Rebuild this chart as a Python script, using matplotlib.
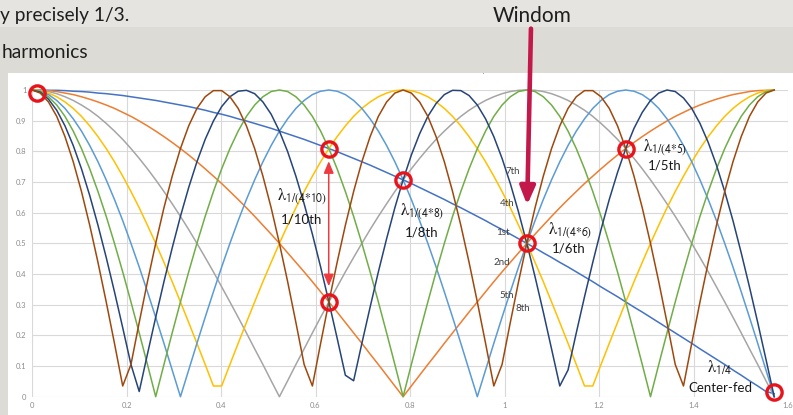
import numpy as np
import matplotlib
matplotlib.use("Agg")
import matplotlib.pyplot as plt
from matplotlib.patches import Rectangle

# angle along the wire, degrees (plotted in radians)
angle_deg = list(range(0, 91))

# |cos(n*angle)|, one list per harmonic
h1 = [1.000, 1.000, 0.999, 0.999, 0.998, 0.996, 0.995, 0.993, 0.990, 0.988,
      0.985, 0.982, 0.978, 0.974, 0.970, 0.966, 0.961, 0.956, 0.951, 0.946,
      0.940, 0.934, 0.927, 0.921, 0.914, 0.906, 0.899, 0.891, 0.883, 0.875,
      0.866, 0.857, 0.848, 0.839, 0.829, 0.819, 0.809, 0.799, 0.788, 0.777,
      0.766, 0.755, 0.743, 0.731, 0.719, 0.707, 0.695, 0.682, 0.669, 0.656,
      0.643, 0.629, 0.616, 0.602, 0.588, 0.574, 0.559, 0.545, 0.530, 0.515,
      0.500, 0.485, 0.469, 0.454, 0.438, 0.423, 0.407, 0.391, 0.375, 0.358,
      0.342, 0.326, 0.309, 0.292, 0.276, 0.259, 0.242, 0.225, 0.208, 0.191,
      0.174, 0.156, 0.139, 0.122, 0.105, 0.087, 0.070, 0.052, 0.035, 0.017,
      0.010]
h2 = [1.000, 0.999, 0.998, 0.995, 0.990, 0.985, 0.978, 0.970, 0.961, 0.951,
      0.940, 0.927, 0.914, 0.899, 0.883, 0.866, 0.848, 0.829, 0.809, 0.788,
      0.766, 0.743, 0.719, 0.695, 0.669, 0.643, 0.616, 0.588, 0.559, 0.530,
      0.500, 0.469, 0.438, 0.407, 0.375, 0.342, 0.309, 0.276, 0.242, 0.208,
      0.174, 0.139, 0.105, 0.070, 0.035, 0.000, 0.035, 0.070, 0.105, 0.139,
      0.174, 0.208, 0.242, 0.276, 0.309, 0.342, 0.375, 0.407, 0.438, 0.469,
      0.500, 0.530, 0.559, 0.588, 0.616, 0.643, 0.669, 0.695, 0.719, 0.743,
      0.766, 0.788, 0.809, 0.829, 0.848, 0.866, 0.883, 0.899, 0.914, 0.927,
      0.940, 0.951, 0.961, 0.970, 0.978, 0.985, 0.990, 0.995, 0.998, 0.999,
      1.000]
h3 = [1.000, 0.999, 0.995, 0.988, 0.978, 0.966, 0.951, 0.934, 0.914, 0.891,
      0.866, 0.839, 0.809, 0.777, 0.743, 0.707, 0.669, 0.629, 0.588, 0.545,
      0.500, 0.454, 0.407, 0.358, 0.309, 0.259, 0.208, 0.156, 0.105, 0.052,
      0.000, 0.052, 0.105, 0.156, 0.208, 0.259, 0.309, 0.358, 0.407, 0.454,
      0.500, 0.545, 0.588, 0.629, 0.669, 0.707, 0.743, 0.777, 0.809, 0.839,
      0.866, 0.891, 0.914, 0.934, 0.951, 0.966, 0.978, 0.988, 0.995, 0.999,
      1.000, 0.999, 0.995, 0.988, 0.978, 0.966, 0.951, 0.934, 0.914, 0.891,
      0.866, 0.839, 0.809, 0.777, 0.743, 0.707, 0.669, 0.629, 0.588, 0.545,
      0.500, 0.454, 0.407, 0.358, 0.309, 0.259, 0.208, 0.156, 0.105, 0.052,
      0.000]
h4 = [1.000, 0.998, 0.990, 0.978, 0.961, 0.940, 0.914, 0.883, 0.848, 0.809,
      0.766, 0.719, 0.669, 0.616, 0.559, 0.500, 0.438, 0.375, 0.309, 0.242,
      0.174, 0.105, 0.035, 0.035, 0.105, 0.174, 0.242, 0.309, 0.375, 0.438,
      0.500, 0.559, 0.616, 0.669, 0.719, 0.766, 0.809, 0.848, 0.883, 0.914,
      0.940, 0.961, 0.978, 0.990, 0.998, 1.000, 0.998, 0.990, 0.978, 0.961,
      0.940, 0.914, 0.883, 0.848, 0.809, 0.766, 0.719, 0.669, 0.616, 0.559,
      0.500, 0.438, 0.375, 0.309, 0.242, 0.174, 0.105, 0.035, 0.035, 0.105,
      0.174, 0.242, 0.309, 0.375, 0.438, 0.500, 0.559, 0.616, 0.669, 0.719,
      0.766, 0.809, 0.848, 0.883, 0.914, 0.940, 0.961, 0.978, 0.990, 0.998,
      1.000]
h5 = [1.000, 0.996, 0.985, 0.966, 0.940, 0.906, 0.866, 0.819, 0.766, 0.707,
      0.643, 0.574, 0.500, 0.423, 0.342, 0.259, 0.174, 0.087, 0.000, 0.087,
      0.174, 0.259, 0.342, 0.423, 0.500, 0.574, 0.643, 0.707, 0.766, 0.819,
      0.866, 0.906, 0.940, 0.966, 0.985, 0.996, 1.000, 0.996, 0.985, 0.966,
      0.940, 0.906, 0.866, 0.819, 0.766, 0.707, 0.643, 0.574, 0.500, 0.423,
      0.342, 0.259, 0.174, 0.087, 0.000, 0.087, 0.174, 0.259, 0.342, 0.423,
      0.500, 0.574, 0.643, 0.707, 0.766, 0.819, 0.866, 0.906, 0.940, 0.966,
      0.985, 0.996, 1.000, 0.996, 0.985, 0.966, 0.940, 0.906, 0.866, 0.819,
      0.766, 0.707, 0.643, 0.574, 0.500, 0.423, 0.342, 0.259, 0.174, 0.087,
      0.000]
h6 = [1.000, 0.995, 0.978, 0.951, 0.914, 0.866, 0.809, 0.743, 0.669, 0.588,
      0.500, 0.407, 0.309, 0.208, 0.105, 0.000, 0.105, 0.208, 0.309, 0.407,
      0.500, 0.588, 0.669, 0.743, 0.809, 0.866, 0.914, 0.951, 0.978, 0.995,
      1.000, 0.995, 0.978, 0.951, 0.914, 0.866, 0.809, 0.743, 0.669, 0.588,
      0.500, 0.407, 0.309, 0.208, 0.105, 0.000, 0.105, 0.208, 0.309, 0.407,
      0.500, 0.588, 0.669, 0.743, 0.809, 0.866, 0.914, 0.951, 0.978, 0.995,
      1.000, 0.995, 0.978, 0.951, 0.914, 0.866, 0.809, 0.743, 0.669, 0.588,
      0.500, 0.407, 0.309, 0.208, 0.105, 0.000, 0.105, 0.208, 0.309, 0.407,
      0.500, 0.588, 0.669, 0.743, 0.809, 0.866, 0.914, 0.951, 0.978, 0.995,
      1.000]
h7 = [1.000, 0.993, 0.970, 0.934, 0.883, 0.819, 0.743, 0.656, 0.559, 0.454,
      0.342, 0.225, 0.105, 0.017, 0.139, 0.259, 0.375, 0.485, 0.588, 0.682,
      0.766, 0.839, 0.899, 0.946, 0.978, 0.996, 0.999, 0.988, 0.961, 0.921,
      0.866, 0.799, 0.719, 0.629, 0.530, 0.423, 0.309, 0.191, 0.070, 0.052,
      0.174, 0.292, 0.407, 0.515, 0.616, 0.707, 0.788, 0.857, 0.914, 0.956,
      0.985, 0.999, 0.998, 0.982, 0.951, 0.906, 0.848, 0.777, 0.695, 0.602,
      0.500, 0.391, 0.276, 0.156, 0.035, 0.087, 0.208, 0.326, 0.438, 0.545,
      0.643, 0.731, 0.809, 0.875, 0.927, 0.966, 0.990, 1.000, 0.995, 0.974,
      0.940, 0.891, 0.829, 0.755, 0.669, 0.574, 0.469, 0.358, 0.242, 0.122,
      0.000]
h8 = [1.000, 0.990, 0.961, 0.914, 0.848, 0.766, 0.669, 0.559, 0.438, 0.309,
      0.174, 0.035, 0.105, 0.242, 0.375, 0.500, 0.616, 0.719, 0.809, 0.883,
      0.940, 0.978, 0.998, 0.998, 0.978, 0.940, 0.883, 0.809, 0.719, 0.616,
      0.500, 0.375, 0.242, 0.105, 0.035, 0.174, 0.309, 0.438, 0.559, 0.669,
      0.766, 0.848, 0.914, 0.961, 0.990, 1.000, 0.990, 0.961, 0.914, 0.848,
      0.766, 0.669, 0.559, 0.438, 0.309, 0.174, 0.035, 0.105, 0.242, 0.375,
      0.500, 0.616, 0.719, 0.809, 0.883, 0.940, 0.978, 0.998, 0.998, 0.978,
      0.940, 0.883, 0.809, 0.719, 0.616, 0.500, 0.375, 0.242, 0.105, 0.035,
      0.174, 0.309, 0.438, 0.559, 0.669, 0.766, 0.848, 0.914, 0.961, 0.990,
      1.000]

harmonics = [h1, h2, h3, h4, h5, h6, h7, h8]
colors = ['#4472C4', '#ED7D31', '#A5A5A5', '#FFC000',
          '#5B9BD5', '#70AD47', '#264478', '#9E480E']

x_ticks = [0, 0.2, 0.4, 0.6, 0.8, 1.0, 1.2, 1.4, 1.6]
y_ticks = [0, 0.1, 0.2, 0.3, 0.4, 0.5, 0.6, 0.7, 0.8, 0.9, 1.0]

# coincidence points that are circled on the slide
circle_x = [0.01, 0.628, 0.628, 0.785, 1.047, 1.257, 1.571]
circle_y = [0.99, 0.809, 0.309, 0.707, 0.500, 0.809, 0.015]

W, H = 793, 415
plt.rcParams['font.family'] = ['Lato', 'DejaVu Sans']
plt.rcParams['mathtext.fontset'] = 'stix'

fig = plt.figure(figsize=(W / 100, H / 100), dpi=100)
fig.patch.set_facecolor('#dddbd6')

# slide background: light top band, white chart box, chart title hidden under band
fig.patches.append(Rectangle((8 / W, 0), 1, (H - 73) / H, transform=fig.transFigure,
                             facecolor='white', edgecolor='none', zorder=0.5))
fig.text(405 / W, 1 - 69 / H, 'Harmonic Coincidence with OCF Dipole', ha='center',
         va='center', fontsize=8, color='#a6a6a6', zorder=1)
fig.patches.append(Rectangle((8 / W, 1 - 73 / H), 1, 46 / H, transform=fig.transFigure,
                             facecolor='#dddbd6', edgecolor='none', zorder=2))
fig.patches.append(Rectangle((0, 1 - 27 / H), 1, 27 / H, transform=fig.transFigure,
                             facecolor='#e6e4e0', edgecolor='none', zorder=2))

fig.text(0, 1 - 15 / H, 'y precisely 1/3.', ha='left', va='center',
         fontsize=13.8, color='#1e1e1e', zorder=3)
fig.text(2 / W, 1 - 52 / H, 'harmonics', ha='left', va='center',
         fontsize=13.8, color='#1e1e1e', zorder=3)
fig.text(532 / W, 1 - 16 / H, 'Windom', ha='center', va='center',
         fontsize=15, color='#1e1e1e', zorder=3)

ax = fig.add_axes([32 / W, (H - 396.7) / H, (788 - 32) / W, (396.7 - 90) / H])
ax.set_zorder(5)
ax.patch.set_alpha(0)

x = np.radians(angle_deg)
for vals, c in zip(harmonics, colors):
    ax.plot(x, vals, color=c, lw=1.1, clip_on=False, zorder=3)

ax.set_xlim(0, 1.6)
ax.set_ylim(0, 1)
ax.set_xticks(x_ticks)
ax.set_yticks(y_ticks)
fmt = plt.FuncFormatter(lambda v, _: f"{v:g}")
ax.xaxis.set_major_formatter(fmt)
ax.yaxis.set_major_formatter(fmt)
ax.tick_params(length=0, labelsize=5.5, labelcolor='#8c8c8c', pad=4)
ax.grid(True, color='#d9d9d9', lw=0.8)
ax.set_axisbelow(True)
for s in ax.spines.values():
    s.set_visible(False)

ax.plot(circle_x, circle_y, 'o', ms=11, mfc='none', mec='#e8141c', mew=2.4,
        clip_on=False, zorder=6)

# Windom arrow from the slide text down to the 1/6th point
ax.annotate('', xy=(1.048, 0.625), xytext=(1.056, 1.20), annotation_clip=False,
            arrowprops=dict(arrowstyle='-|>,head_length=0.6,head_width=0.25',
                            color='#c2184a', lw=3.3, mutation_scale=18,
                            shrinkA=0, shrinkB=0), zorder=7)
# spread between 2nd and 10th harmonic at 1/10th
ax.annotate('', xy=(0.628, 0.36), xytext=(0.628, 0.768),
            arrowprops=dict(arrowstyle='<|-|>,head_length=0.6,head_width=0.25',
                            color='#ee3b40', lw=1.1, mutation_scale=12,
                            shrinkA=0, shrinkB=0), zorder=7)

lam = dict(ha='center', va='center', fontsize=12, color='#1a1a1a', zorder=8)
lab = dict(ha='center', va='center', fontsize=9.5, color='#1a1a1a', zorder=8)
ax.text(0.571, 0.653, r'$\mathrm{λ}_{\mathsf{1/(4{*}10)}}$', **lam)
ax.text(0.571, 0.578, '1/10th', **lab)
ax.text(0.825, 0.601, r'$\mathrm{λ}_{\mathsf{1/(4{*}8)}}$', **lam)
ax.text(0.825, 0.536, '1/8th', **lab)
ax.text(1.139, 0.542, r'$\mathrm{λ}_{\mathsf{1/(4{*}6)}}$', **lam)
ax.text(1.135, 0.484, '1/6th', **lab)
ax.text(1.340, 0.812, r'$\mathrm{λ}_{\mathsf{1/(4{*}5)}}$', **lam)
ax.text(1.340, 0.753, '1/5th', **lab)
ax.text(1.456, 0.094, r'$\mathrm{λ}_{\mathsf{1/4}}$', **lam)
ax.text(1.456, 0.029, 'Center-fed', **lab)

small = dict(ha='center', va='center', fontsize=7, color='#404040', zorder=8)
ax.text(1.018, 0.734, '7th', **small)
ax.text(1.006, 0.630, '4th', **small)
ax.text(0.997, 0.536, '1st', **small)
ax.text(0.995, 0.438, '2nd', **small)
ax.text(1.005, 0.331, '5th', **small)
ax.text(1.039, 0.286, '8th', **small)

fig.savefig('out.png', dpi=100, facecolor=fig.get_facecolor())
